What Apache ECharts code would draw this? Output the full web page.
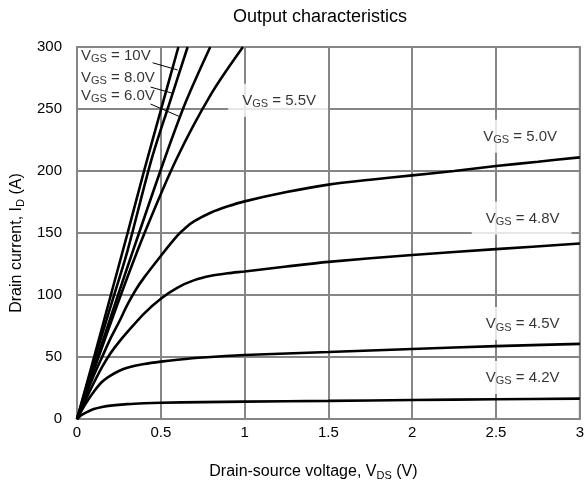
<!DOCTYPE html>
<html>
<head>
<meta charset="utf-8">
<script src="https://cdn.jsdelivr.net/npm/echarts@6/dist/echarts.min.js"></script>
<style>
  html, body { margin: 0; padding: 0; background: #fff; }
  #chart { width: 587px; height: 486px; }
</style>
</head>
<body>
<div id="chart"></div>
<script>
// Drain current I_D (A) versus drain-source voltage V_DS (V), one curve per gate voltage
const vgs10  = [[0,0],[0.1,49],[0.2,99],[0.3,149],[0.4,200],[0.5,249],[0.605,300]];
const vgs8   = [[0,0],[0.1,46],[0.218,98.4],[0.3,135],[0.445,209.5],[0.55,254],[0.66,300]];
const vgs6   = [[0,0],[0.1,41],[0.241,98.4],[0.35,142],[0.522,209.5],[0.65,256],[0.795,300]];
const vgs55  = [[0,0],[0.1,39],[0.257,98.4],[0.4,149],[0.593,209.5],[0.8,262],[0.99,300]];
const vgs50  = [[0,0],[0.05,18],[0.1,35],[0.15,50],[0.2,65],[0.25,78],[0.3,92],[0.35,104],[0.4,114],[0.5,131.5],[0.6,148],[0.65,154.5],[0.7,159.5],[0.8,166.5],[0.9,171.5],[1,175.5],[1.25,183],[1.5,189],[1.75,193],[2,196.5],[2.25,200],[2.5,204],[2.75,207.5],[3,211]];
const vgs48  = [[0,0],[0.05,15],[0.1,29],[0.15,42],[0.2,53],[0.25,62],[0.3,70],[0.4,85],[0.5,97],[0.6,106],[0.7,112],[0.8,115.5],[0.9,117.5],[1,119],[1.25,123],[1.5,126.7],[2,132.3],[2.5,137],[3,141.5]];
const vgs45  = [[0,0],[0.05,12],[0.1,22],[0.15,30],[0.2,35],[0.25,38.7],[0.3,41.3],[0.4,44.3],[0.5,46.3],[0.6,47.8],[0.75,49.6],[1,51.6],[1.5,54],[2,56.5],[2.5,58.8],[3,60.6]];
const vgs42  = [[0,0],[0.025,3],[0.05,5],[0.1,8],[0.15,9.7],[0.2,10.8],[0.3,12],[0.4,12.7],[0.5,13.1],[0.75,13.6],[1,14],[1.5,14.6],[2,15.3],[2.5,15.9],[3,16.4]];

// Curve labels: [gate voltage text, anchor V_DS, anchor I_D]
const curveLabels = [
  ['10V', 0.024, 293],
  ['8.0V', 0.024, 275.5],
  ['6.0V', 0.024, 261]
];
const boxedLabels = [
  ['5.5V', 0.902, 257],
  ['5.0V', 2.34, 228],
  ['4.8V', 2.355, 162],
  ['4.5V', 2.355, 77],
  ['4.2V', 2.355, 33.5]
];
// Leader lines from the stacked labels to their curves
const leaders = [
  [[0.451, 287.3], [0.6, 281.5]],
  [[0.439, 267.7], [0.575, 262.5]],
  [[0.439, 254], [0.62, 243.4]]
];

const xTicks = { min: 0, max: 3, interval: 0.5 };
const yTicks = { min: 0, max: 300, interval: 50 };

const FONT = '"Liberation Sans", Arial, sans-serif';
const gridColor = '#868686';

const richVgs = {
  v: { fontSize: 15, fontFamily: FONT, color: '#000', lineHeight: 18 },
  s: { fontSize: 11, fontFamily: FONT, color: '#000', lineHeight: 18, padding: [7, 0, 0, 0] }
};
const richName = {
  n: { fontSize: 16, fontFamily: FONT, color: '#000', lineHeight: 18 },
  s: { fontSize: 11, fontFamily: FONT, color: '#000', lineHeight: 18, padding: [7, 0, 0, 0] }
};

function curve(data) {
  return {
    type: 'line', data: data, smooth: 0.3, symbol: 'none', z: 4,
    lineStyle: { color: '#000', width: 2.6 }, clip: true
  };
}

const series = [vgs10, vgs8, vgs6, vgs55, vgs50, vgs48, vgs45, vgs42].map(curve);

leaders.forEach(function (seg) {
  series.push({
    type: 'line', data: seg, symbol: 'none', z: 4,
    lineStyle: { color: '#000', width: 1 }
  });
});

series.push({
  type: 'scatter', symbolSize: 0, z: 3,
  data: curveLabels.map(function (d) { return [d[1], d[2], d[0]]; }),
  label: {
    show: true, position: 'right', distance: 0, color: '#000',
    formatter: function (p) { return '{v|V}{s|GS}{v| = ' + p.data[2] + '}'; },
    rich: richVgs
  }
});

series.push({
  type: 'scatter', symbolSize: 0, z: 3,
  data: boxedLabels.map(function (d) { return [d[1], d[2], d[0]]; }),
  label: {
    show: true, position: 'right', distance: 0, color: '#000',
    backgroundColor: '#fff', padding: [8, 12, 7, 14],
    formatter: function (p) { return '{v|V}{s|GS}{v| = ' + p.data[2] + '}'; },
    rich: richVgs
  }
});

const chart = echarts.init(document.getElementById('chart'), null, { renderer: 'canvas' });
chart.setOption({
  animation: false,
  backgroundColor: '#fff',
  title: {
    text: 'Output characteristics', left: 228, top: 3,
    textStyle: { fontFamily: FONT, fontSize: 18, fontWeight: 'normal', color: '#000' }
  },
  grid: {
    left: 76, right: 4, top: 47, bottom: 62,
    show: true, borderColor: gridColor, borderWidth: 2
  },
  xAxis: {
    type: 'value', min: xTicks.min, max: xTicks.max, interval: xTicks.interval,
    name: '{n|Drain-source voltage, V}{s|DS}{n| (V)}',
    nameLocation: 'middle', nameGap: 44,
    nameTextStyle: { rich: richName, padding: [0, 30, 0, 0] },
    axisLine: { show: true, lineStyle: { color: gridColor, width: 2 } },
    axisTick: { show: false },
    axisLabel: { color: '#000', fontSize: 15, fontFamily: FONT, margin: 6 },
    splitLine: { show: true, lineStyle: { color: gridColor, width: 2 } }
  },
  yAxis: {
    type: 'value', min: yTicks.min, max: yTicks.max, interval: yTicks.interval,
    name: '{n|Drain current, I}{s|D}{n| (A)}',
    nameLocation: 'middle', nameGap: 51,
    nameTextStyle: { rich: richName, padding: [0, 20, 0, 0] },
    axisLine: { show: true, lineStyle: { color: gridColor, width: 2 } },
    axisTick: { show: false },
    axisLabel: { color: '#000', fontSize: 15, fontFamily: FONT, margin: 15 },
    splitLine: { show: true, lineStyle: { color: gridColor, width: 2 } }
  },
  series: series
});
</script>
</body>
</html>
